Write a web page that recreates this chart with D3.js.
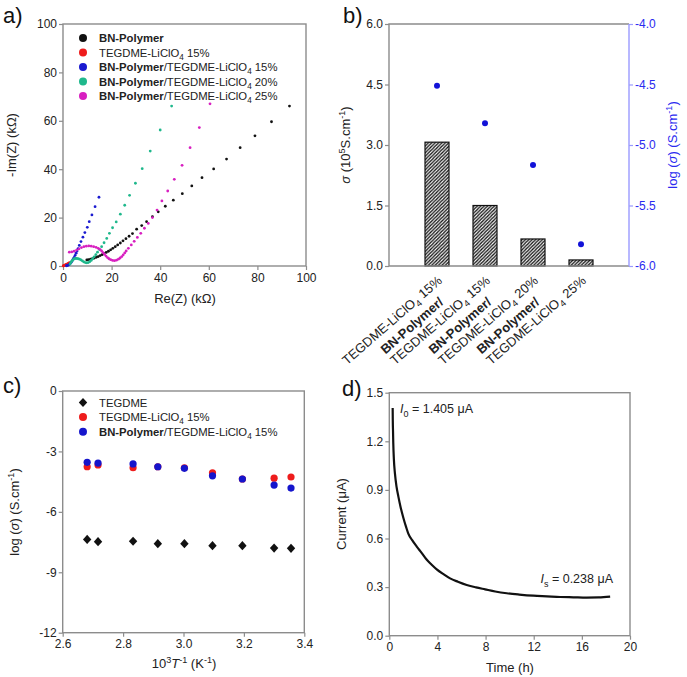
<!DOCTYPE html>
<html><head><meta charset="utf-8">
<script src="https://cdn.jsdelivr.net/npm/d3@7"></script>
<style>body{margin:0;background:#fff} svg{font-family:"Liberation Sans",Arial,sans-serif}</style>
</head><body><svg id="chart" width="687" height="677"></svg>
<script>
// ---------- Panel a: Nyquist data [Re, -Im] in kΩ ----------
const nyqBN = [[9.8,2.5],[10.5,2.6],[11.3,2.8],[12.1,3.0],[12.9,3.3],[13.7,3.6],[14.5,3.9],[15.3,4.3],[16.1,4.7],[16.9,5.1],[17.8,5.6],[18.7,6.1],[19.6,6.7],[20.5,7.3],[21.5,8.0],[22.5,8.7],[23.6,9.5],[24.7,10.4],[25.9,11.3],[27.2,12.3],[28.6,13.4],[30.3,15.2],[32.4,16.7],[34.4,18.3],[36.8,20.4],[39.2,22.4],[42.1,24.7],[45.4,27.2],[49.1,29.9],[53.0,33.1],[57.2,36.5],[62.0,40.1],[67.3,44.2],[72.9,48.9],[79.0,53.8],[85.8,59.6],[93.2,66.1]];
const nyqTEG15 = [[0.1,0.05],[0.3,0.1],[0.5,0.2],[0.7,0.3],[0.9,0.4],[1.1,0.5],[1.3,0.6],[1.5,0.7],[1.8,0.85],[2.1,1.0],[2.4,1.2],[2.7,1.4]];
const nyqBNTEG15 = [[1.4,0.1],[1.8,0.2],[2.2,0.4],[2.6,0.7],[3.0,1.1],[3.4,1.6],[3.8,2.2],[4.2,2.9],[4.6,3.6],[5.0,4.4],[5.4,5.3],[5.8,6.2],[6.2,7.2],[6.7,8.5],[7.4,10.1],[8.2,11.9],[9.0,13.8],[10.0,16.0],[10.8,18.3],[11.9,21.1],[13.2,24.5],[14.8,28.4]];
const nyqBNTEG20 = [[2.9,0.8],[3.2,1.4],[3.6,2.0],[4.0,2.5],[4.5,2.9],[5.0,3.1],[5.6,3.1],[6.2,3.0],[6.8,2.8],[7.4,2.5],[8.0,2.1],[8.6,1.7],[9.2,1.4],[9.8,1.3],[10.4,1.4],[11.0,1.8],[11.6,2.3],[12.2,3.0],[12.8,3.8],[13.5,4.7],[14.2,5.7],[15.0,6.8],[15.9,8.0],[16.9,9.6],[18.0,11.4],[19.1,13.5],[20.4,15.8],[21.9,18.2],[23.6,21.4],[25.4,25.1],[27.4,29.2],[29.8,34.2],[32.6,40.2],[35.9,47.5],[40.0,56.2],[44.7,66.1]];
const nyqBNTEG25 = [[2.6,5.7],[3.6,5.8],[4.6,6.1],[5.6,6.6],[6.6,7.1],[7.6,7.6],[8.6,8.0],[9.6,8.2],[10.6,8.3],[11.6,8.2],[12.6,8.0],[13.6,7.7],[14.5,7.3],[15.3,6.8],[15.9,6.2],[16.5,5.5],[17.1,4.8],[17.7,4.1],[18.3,3.5],[18.9,3.0],[19.6,2.6],[20.4,2.3],[21.2,2.2],[22.0,2.4],[22.8,2.8],[23.5,3.3],[24.2,3.9],[24.8,4.6],[25.4,5.4],[26.0,6.2],[26.9,7.3],[28.1,8.7],[29.3,10.2],[30.6,11.8],[32.0,13.5],[33.5,15.6],[35.1,17.6],[36.8,20.0],[38.7,23.1],[40.7,26.9],[43.1,31.0],[45.8,35.8],[49.0,41.6],[52.3,48.9],[56.1,57.2],[60.5,67.0]];
const nyqTicks = [0,20,40,60,80,100];
const nyqNames = [
  [{t:"BN-Polymer",b:true}],
  [{t:"TEGDME-LiClO"},{t:"4",sub:true},{t:" 15%"}],
  [{t:"BN-Polymer",b:true},{t:"/TEGDME-LiClO"},{t:"4",sub:true},{t:" 15%"}],
  [{t:"BN-Polymer",b:true},{t:"/TEGDME-LiClO"},{t:"4",sub:true},{t:" 20%"}],
  [{t:"BN-Polymer",b:true},{t:"/TEGDME-LiClO"},{t:"4",sub:true},{t:" 25%"}]
];
const nyqColors = ["#111111","#ee1c1c","#1a1ad0","#1fb88c","#d81fc0"];

// ---------- Panel b ----------
const condCats = ["15%a","15%b","20%","25%"];
const condSigma = [3.07, 1.50, 0.67, 0.15];
const condLog = [-4.51, -4.82, -5.165, -5.82];
const condLeftTicks = [0, 1.5, 3.0, 4.5, 6.0];
const condRightTicks = [-6.0, -5.5, -5.0, -4.5, -4.0];
const condLine1 = [null, "BN-Polymer/", "BN-Polymer/", "BN-Polymer/"];
const condLine2Pct = ["15%", "15%", "20%", "25%"];

// ---------- Panel c ----------
const arrX = [2.681, 2.717, 2.833, 2.915, 3.003, 3.096, 3.195, 3.300, 3.356];
const arrTEGDME = [-7.37, -7.48, -7.46, -7.58, -7.58, -7.68, -7.68, -7.80, -7.81];
const arrTEG15 = [-3.76, -3.67, -3.81, -3.76, -3.81, -4.06, -4.37, -4.33, -4.27];
const arrBNTEG15 = [-3.54, -3.58, -3.62, -3.76, -3.84, -4.21, -4.37, -4.67, -4.82];
const arrXTicks = [2.6, 2.8, 3.0, 3.2, 3.4];
const arrYTicks = [0, -3, -6, -9, -12];

// ---------- Panel d ----------
const ptTime = [0.28,0.29,0.31,0.33,0.38,0.47,0.6,0.75,0.95,1.16,1.4,1.58,1.9,2.28,2.7,3.1,3.5,3.94,4.5,5.05,5.7,6.43,7.2,7.96,8.8,9.76,10.8,11.97,13.1,14.2,15.3,16.4,17.4,18.35];
const ptCurrent = [1.405,1.33,1.26,1.19,1.09,1.0,0.92,0.86,0.79,0.73,0.67,0.63,0.59,0.55,0.51,0.47,0.44,0.41,0.38,0.354,0.333,0.313,0.298,0.286,0.273,0.262,0.254,0.247,0.243,0.239,0.237,0.235,0.236,0.241];
const ptXTicks = [0,4,8,12,16,20];
const ptYTicks = [0.0,0.3,0.6,0.9,1.2,1.5];

// ---------- helpers ----------
const svg = d3.select("#chart");
const FRAME = "#8c8c8c", TXT = "#222";
const hy = s => String(s).replace(/\u2212/g, "-");
function rich(sel, parts, fs) {
  let shift = 0;
  parts.forEach(p => {
    const ts = sel.append("tspan").text(p.t);
    let target = 0, size = fs;
    if (p.sup) { target = -0.4 * fs; size = fs * 0.7; }
    if (p.sub) { target = 0.28 * fs; size = fs * 0.72; }
    if (target - shift !== 0) ts.attr("dy", target - shift);
    shift = target;
    if (size !== fs) ts.attr("font-size", size);
    if (p.b) ts.attr("font-weight", "bold");
    if (p.i) ts.attr("font-style", "italic");
  });
  return sel;
}
function styleAxis(g, lineColor, textColor) {
  g.attr("font-size", 12).attr("font-family", '"Liberation Sans",Arial,sans-serif');
  g.select(".domain").remove();
  g.selectAll(".tick line").attr("stroke", lineColor).attr("stroke-width", 1.2);
  g.selectAll(".tick text").attr("fill", textColor);
}
function box(x0, x1, y0, y1) {
  svg.append("rect").attr("x", x0).attr("y", y1).attr("width", x1 - x0).attr("height", y0 - y1)
    .attr("fill", "none").attr("stroke", FRAME).attr("stroke-width", 1.4);
}
function panelLabel(t, x, y) {
  svg.append("text").attr("x", x).attr("y", y).attr("font-size", 22).attr("fill", "#111").text(t);
}
function yTitle(parts, x, y, color) {
  rich(svg.append("text").attr("transform", `translate(${x},${y}) rotate(-90)`)
    .attr("text-anchor", "middle").attr("font-size", 13).attr("fill", color || TXT), parts, 13);
}
function xTitle(parts, x, y) {
  rich(svg.append("text").attr("x", x).attr("y", y).attr("text-anchor", "middle")
    .attr("font-size", 13).attr("fill", TXT), parts, 13);
}

// ================= Panel a =================
{
  const x = d3.scaleLinear([0, 100], [63, 306]);
  const y = d3.scaleLinear([0, 100], [266, 24]);
  box(63, 306, 266, 24);
  styleAxis(svg.append("g").attr("transform", "translate(0,266)")
    .call(d3.axisBottom(x).tickValues(nyqTicks).tickSize(4).tickPadding(3)), FRAME, TXT);
  styleAxis(svg.append("g").attr("transform", "translate(63,0)")
    .call(d3.axisLeft(y).tickValues(nyqTicks).tickSize(4).tickPadding(2)), FRAME, TXT);
  const series = [nyqBN, nyqTEG15, nyqBNTEG15, nyqBNTEG20, nyqBNTEG25];
  series.forEach((s, i) => {
    svg.append("g").selectAll("circle").data(s).join("circle")
      .attr("cx", d => x(d[0])).attr("cy", d => y(d[1])).attr("r", 1.4).attr("fill", nyqColors[i]);
  });
  const lg = svg.append("g");
  nyqNames.forEach((n, i) => {
    const yy = 38 + i * 14.5;
    lg.append("circle").attr("cx", 83).attr("cy", yy).attr("r", 4).attr("fill", nyqColors[i]);
    rich(lg.append("text").attr("x", 99).attr("y", yy + 4).attr("font-size", 11.3).attr("fill", TXT), n, 11.3);
  });
  panelLabel("a)", 3, 23);
  yTitle([{t:"-Im(Z) (k\u03A9)"}], 16, 145);
  xTitle([{t:"Re(Z) (k\u03A9)"}], 185, 303);
}

// ================= Panel b =================
{
  const x = d3.scalePoint(condCats, [389, 629]).padding(1);
  const y = d3.scaleLinear([0, 6], [266, 24]);
  const yR = d3.scaleLinear([-6, -4], [266, 24]);
  const defs = svg.append("defs");
  const pat = defs.append("pattern").attr("id", "hatch").attr("patternUnits", "userSpaceOnUse")
    .attr("width", 3.4).attr("height", 3.4);
  pat.append("rect").attr("width", 3.4).attr("height", 3.4).attr("fill", "#fff");
  pat.append("path").attr("d", "M-0.85,0.85 L0.85,-0.85 M0,3.4 L3.4,0 M2.55,4.25 L4.25,2.55")
    .attr("stroke", "#111").attr("stroke-width", 1.35);
  svg.append("g").selectAll("rect").data(condCats).join("rect")
    .attr("x", d => x(d) - 12).attr("width", 24)
    .attr("y", (d, i) => y(condSigma[i])).attr("height", (d, i) => y(0) - y(condSigma[i]))
    .attr("fill", "url(#hatch)").attr("stroke", "#111").attr("stroke-width", 1.2);
  svg.append("path").attr("d", "M629,24 H389 V266 H629").attr("fill", "none").attr("stroke", FRAME).attr("stroke-width", 1.4);
  svg.append("line").attr("x1", 629).attr("x2", 629).attr("y1", 24).attr("y2", 266).attr("stroke", "#9a9aff").attr("stroke-width", 1.4);
  styleAxis(svg.append("g").attr("transform", "translate(389,0)")
    .call(d3.axisLeft(y).tickValues(condLeftTicks).tickSize(4).tickPadding(2).tickFormat(d3.format(".1f"))), FRAME, TXT);
  styleAxis(svg.append("g").attr("transform", "translate(629,0)")
    .call(d3.axisRight(yR).tickValues(condRightTicks).tickSize(4).tickPadding(2).tickFormat(d => hy(d3.format(".1f")(d)))), "#9a9aff", "#2a2af0");
  svg.append("g").selectAll("circle").data(condCats).join("circle")
    .attr("cx", d => x(d)).attr("cy", (d, i) => yR(condLog[i])).attr("r", 3).attr("fill", "#1212d8");
  condCats.forEach((c, i) => {
    const g = svg.append("g").attr("transform", `translate(${x(c) + 6},282) rotate(-41)`)
      .attr("font-size", 13).attr("fill", TXT);
    const t2 = rich(g.append("text").attr("text-anchor", "end"),
      [{t:"TEGDME-LiClO"},{t:"4",sub:true},{t:" " + condLine2Pct[i]}], 13);
    if (condLine1[i]) {
      const w = t2.node().getComputedTextLength();
      g.append("text").attr("x", -w).attr("y", -14.5).attr("font-weight", "bold").text(condLine1[i]);
    }
  });
  panelLabel("b)", 343, 23);
  yTitle([{t:"\u03C3",i:true},{t:" (10"},{t:"5",sup:true},{t:"S.cm"},{t:"-1",sup:true},{t:")"}], 350, 145);
  yTitle([{t:"log ("},{t:"\u03C3",i:true},{t:") (S.cm"},{t:"-1",sup:true},{t:")"}], 677, 145, "#2a2af0");
}

// ================= Panel c =================
{
  const x = d3.scaleLinear([2.6, 3.4], [62.7, 304.3]);
  const y = d3.scaleLinear([-12, 0], [632.7, 391]);
  box(62.7, 304.3, 632.7, 391);
  styleAxis(svg.append("g").attr("transform", "translate(0,632.7)")
    .call(d3.axisBottom(x).tickValues(arrXTicks).tickSize(4).tickPadding(3).tickFormat(d3.format(".1f"))), FRAME, TXT);
  styleAxis(svg.append("g").attr("transform", "translate(62.7,0)")
    .call(d3.axisLeft(y).tickValues(arrYTicks).tickSize(4).tickPadding(2).tickFormat(d => hy(d3.format("d")(d)))), FRAME, TXT);
  const diamond = "M0,-4.6 L4.2,0 L0,4.6 L-4.2,0Z";
  svg.append("g").selectAll("path").data(arrX).join("path")
    .attr("d", diamond).attr("transform", (d, i) => `translate(${x(d)},${y(arrTEGDME[i])})`).attr("fill", "#111");
  svg.append("g").selectAll("circle").data(arrX).join("circle")
    .attr("cx", d => x(d)).attr("cy", (d, i) => y(arrTEG15[i])).attr("r", 3.6).attr("fill", "#ee1c1c");
  svg.append("g").selectAll("circle").data(arrX).join("circle")
    .attr("cx", d => x(d)).attr("cy", (d, i) => y(arrBNTEG15[i])).attr("r", 3.6).attr("fill", "#1515cc");
  const lg = svg.append("g");
  const rows = [
    [{t:"TEGDME"}],
    [{t:"TEGDME-LiClO"},{t:"4",sub:true},{t:" 15%"}],
    [{t:"BN-Polymer",b:true},{t:"/TEGDME-LiClO"},{t:"4",sub:true},{t:" 15%"}]
  ];
  rows.forEach((r, i) => {
    const yy = 402.5 + i * 14.6;
    if (i === 0) lg.append("path").attr("d", diamond).attr("transform", `translate(83,${yy})`).attr("fill", "#111");
    else lg.append("circle").attr("cx", 83).attr("cy", yy).attr("r", 4).attr("fill", i === 1 ? "#ee1c1c" : "#1515cc");
    rich(lg.append("text").attr("x", 99).attr("y", yy + 4).attr("font-size", 11.3).attr("fill", TXT), r, 11.3);
  });
  panelLabel("c)", 3, 393);
  yTitle([{t:"log ("},{t:"\u03C3",i:true},{t:") (S.cm"},{t:"-1",sup:true},{t:")"}], 19, 512);
  xTitle([{t:"10"},{t:"3",sup:true},{t:"T",i:true},{t:"-1",sup:true},{t:" (K"},{t:"-1",sup:true},{t:")"}], 184, 668);
}

// ================= Panel d =================
{
  const x = d3.scaleLinear([0, 20], [389.3, 630]);
  const y = d3.scaleLinear([0, 1.5], [635.7, 392.7]);
  box(389.3, 630, 635.7, 392.7);
  styleAxis(svg.append("g").attr("transform", "translate(0,635.7)")
    .call(d3.axisBottom(x).tickValues(ptXTicks).tickSize(4).tickPadding(3)), FRAME, TXT);
  styleAxis(svg.append("g").attr("transform", "translate(389.3,0)")
    .call(d3.axisLeft(y).tickValues(ptYTicks).tickSize(4).tickPadding(2).tickFormat(d3.format(".1f"))), FRAME, TXT);
  const line = d3.line().x((d, i) => x(ptTime[i])).y(d => y(d)).curve(d3.curveMonotoneX);
  svg.append("path").attr("d", line(ptCurrent)).attr("fill", "none").attr("stroke", "#111").attr("stroke-width", 2.2);
  rich(svg.append("text").attr("x", 400).attr("y", 413).attr("font-size", 12.5).attr("fill", TXT),
    [{t:"I",i:true},{t:"0",sub:true},{t:" = 1.405 \u03BCA"}], 12.5);
  rich(svg.append("text").attr("x", 613).attr("y", 583).attr("text-anchor", "end").attr("font-size", 12.5).attr("fill", TXT),
    [{t:"I",i:true},{t:"s",sub:true},{t:" = 0.238 \u03BCA"}], 12.5);
  panelLabel("d)", 342, 396);
  yTitle([{t:"Current (\u03BCA)"}], 346, 514);
  xTitle([{t:"Time (h)"}], 510, 672);
}
</script></body></html>
